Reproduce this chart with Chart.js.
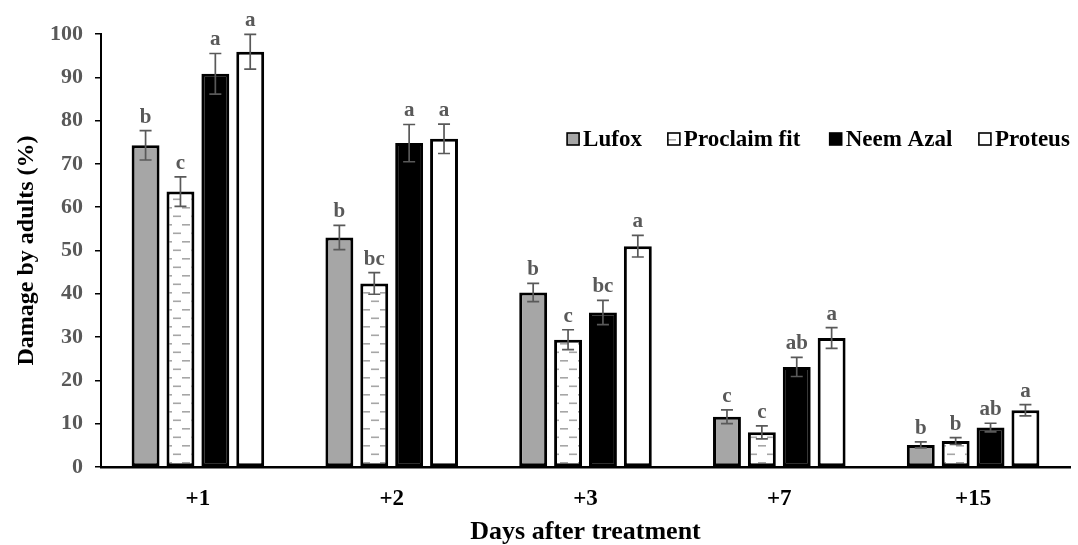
<!DOCTYPE html>
<html><head><meta charset="utf-8">
<script src="https://cdn.jsdelivr.net/npm/chart.js@4"></script>
<style>html,body{margin:0;padding:0;background:#fff}canvas{display:block}</style>
</head><body>
<canvas id="c" width="1078" height="545"></canvas>
<script>
const categories = ['+1', '+2', '+3', '+7', '+15'];
const seriesNames = ['Lufox', 'Proclaim fit', 'Neem Azal', 'Proteus'];
const lufox = [74.3, 53.0, 40.3, 11.6, 5.1];
const proclaim = [63.6, 42.4, 29.4, 8.0, 6.0];
const neem = [90.8, 74.8, 35.7, 23.1, 9.1];
const proteus = [95.9, 75.8, 51.0, 29.8, 13.1];
const lufoxErr = [3.4, 2.8, 2.1, 1.6, 0.7];
const proclaimErr = [3.4, 2.5, 2.3, 1.5, 0.8];
const neemErr = [4.7, 4.3, 2.8, 2.2, 1.0];
const proteusErr = [4.0, 3.4, 2.5, 2.4, 1.3];
const lufoxLetters = ['b', 'b', 'b', 'c', 'b'];
const proclaimLetters = ['c', 'bc', 'c', 'c', 'b'];
const neemLetters = ['a', 'a', 'bc', 'ab', 'ab'];
const proteusLetters = ['a', 'a', 'a', 'a', 'a'];
const yTickValues = [0, 10, 20, 30, 40, 50, 60, 70, 80, 90, 100];
const xTitle = 'Days after treatment';
const yTitle = 'Damage by adults (%)';

const FONT = '"Liberation Serif", "Times New Roman", serif';

// dashed pattern for "Proclaim fit"
function makePattern() {
  const pc = document.createElement('canvas');
  pc.width = 18; pc.height = 17;
  const p = pc.getContext('2d');
  p.fillStyle = '#ffffff';
  p.fillRect(0, 0, 18, 17);
  p.fillStyle = '#a6a6a6';
  p.fillRect(2, 3, 8, 1.6);
  p.fillRect(11, 11.5, 8, 1.6);
  p.fillRect(0, 11.5, 1, 1.6);
  return document.getElementById('c').getContext('2d').createPattern(pc, 'repeat');
}
const dashPattern = makePattern();

const errors = [lufoxErr, proclaimErr, neemErr, proteusErr];
const letters = [lufoxLetters, proclaimLetters, neemLetters, proteusLetters];
const fills = ['#a6a6a6', dashPattern, '#000000', '#ffffff'];

const errorPlugin = {
  id: 'errorBars',
  afterDatasetsDraw(chart) {
    const ctx = chart.ctx;
    const y = chart.scales.y;
    ctx.save();
    chart.data.datasets.forEach((ds, i) => {
      const meta = chart.getDatasetMeta(i);
      meta.data.forEach((bar, j) => {
        const v = ds.data[j], e = errors[i][j];
        const yt = y.getPixelForValue(v + e), yb = y.getPixelForValue(v - e);
        ctx.strokeStyle = '#595959';
        ctx.lineWidth = 1.7;
        ctx.beginPath();
        ctx.moveTo(bar.x, yt); ctx.lineTo(bar.x, yb);
        ctx.moveTo(bar.x - 6, yt); ctx.lineTo(bar.x + 6, yt);
        ctx.moveTo(bar.x - 6, yb); ctx.lineTo(bar.x + 6, yb);
        ctx.stroke();
        ctx.fillStyle = '#595959';
        ctx.font = 'bold 21px ' + FONT;
        ctx.textAlign = 'center';
        ctx.textBaseline = 'alphabetic';
        ctx.fillText(letters[i][j], bar.x, yt - 8);
      });
    });
    ctx.restore();
  }
};

const legendPlugin = {
  id: 'customLegend',
  afterDraw(chart) {
    const ctx = chart.ctx;
    const area = chart.chartArea;
    const starts = [0.481, 0.585, 0.752, 0.906];
    const cy = 139;
    ctx.save();
    ctx.font = 'bold 23px ' + FONT;
    ctx.textBaseline = 'middle';
    ctx.textAlign = 'left';
    seriesNames.forEach((name, i) => {
      const x = area.left + starts[i] * (area.right - area.left);
      ctx.fillStyle = fills[i];
      ctx.fillRect(x, cy - 6, 12, 12);
      ctx.strokeStyle = '#000';
      ctx.lineWidth = 1.6;
      ctx.strokeRect(x, cy - 6, 12, 12);
      ctx.fillStyle = '#000';
      ctx.fillText(name, x + 16, cy + 1);
    });
    ctx.restore();
  }
};

const seriesValues = [lufox, proclaim, neem, proteus];
new Chart(document.getElementById('c'), {
  type: 'bar',
  data: {
    labels: categories,
    datasets: seriesNames.map((n, i) => ({
      label: n,
      data: seriesValues[i],
      backgroundColor: fills[i],
      borderColor: '#000000',
      borderWidth: 3,
      borderSkipped: false,
      categoryPercentage: 0.72,
      barPercentage: 0.8
    }))
  },
  options: {
    responsive: false,
    animation: false,
    devicePixelRatio: 1,
    layout: { padding: { top: 34, right: 8, left: 0, bottom: 0 } },
    plugins: { legend: { display: false }, tooltip: { enabled: false } },
    scales: {
      x: {
        grid: { display: false, drawTicks: false },
        border: { display: true, color: '#000', width: 2.5 },
        ticks: { color: '#000', font: { family: FONT, size: 23, weight: 'bold' }, padding: 18 },
        title: { display: true, text: xTitle, color: '#000', font: { family: FONT, size: 26, weight: 'bold', lineHeight: 1.0 }, padding: { top: 0, bottom: 0 } },
        afterFit(s) { s.height = 78; }
      },
      y: {
        min: 0, max: 100,
        afterBuildTicks(s) { s.ticks = yTickValues.map(v => ({ value: v })); },
        grid: { display: true, drawOnChartArea: false, drawTicks: true, tickLength: 6, color: '#000', lineWidth: 1.5 },
        border: { display: true, color: '#000', width: 2 },
        ticks: { color: '#595959', font: { family: FONT, size: 22, weight: 'bold' }, padding: 12 },
        title: { display: true, text: yTitle, color: '#000', font: { family: FONT, size: 24, weight: 'bold' }, padding: { top: 12, bottom: 0 } },
        afterFit(s) { s.width = 101; }
      }
    }
  },
  plugins: [errorPlugin, legendPlugin]
});
</script>
</body></html>
